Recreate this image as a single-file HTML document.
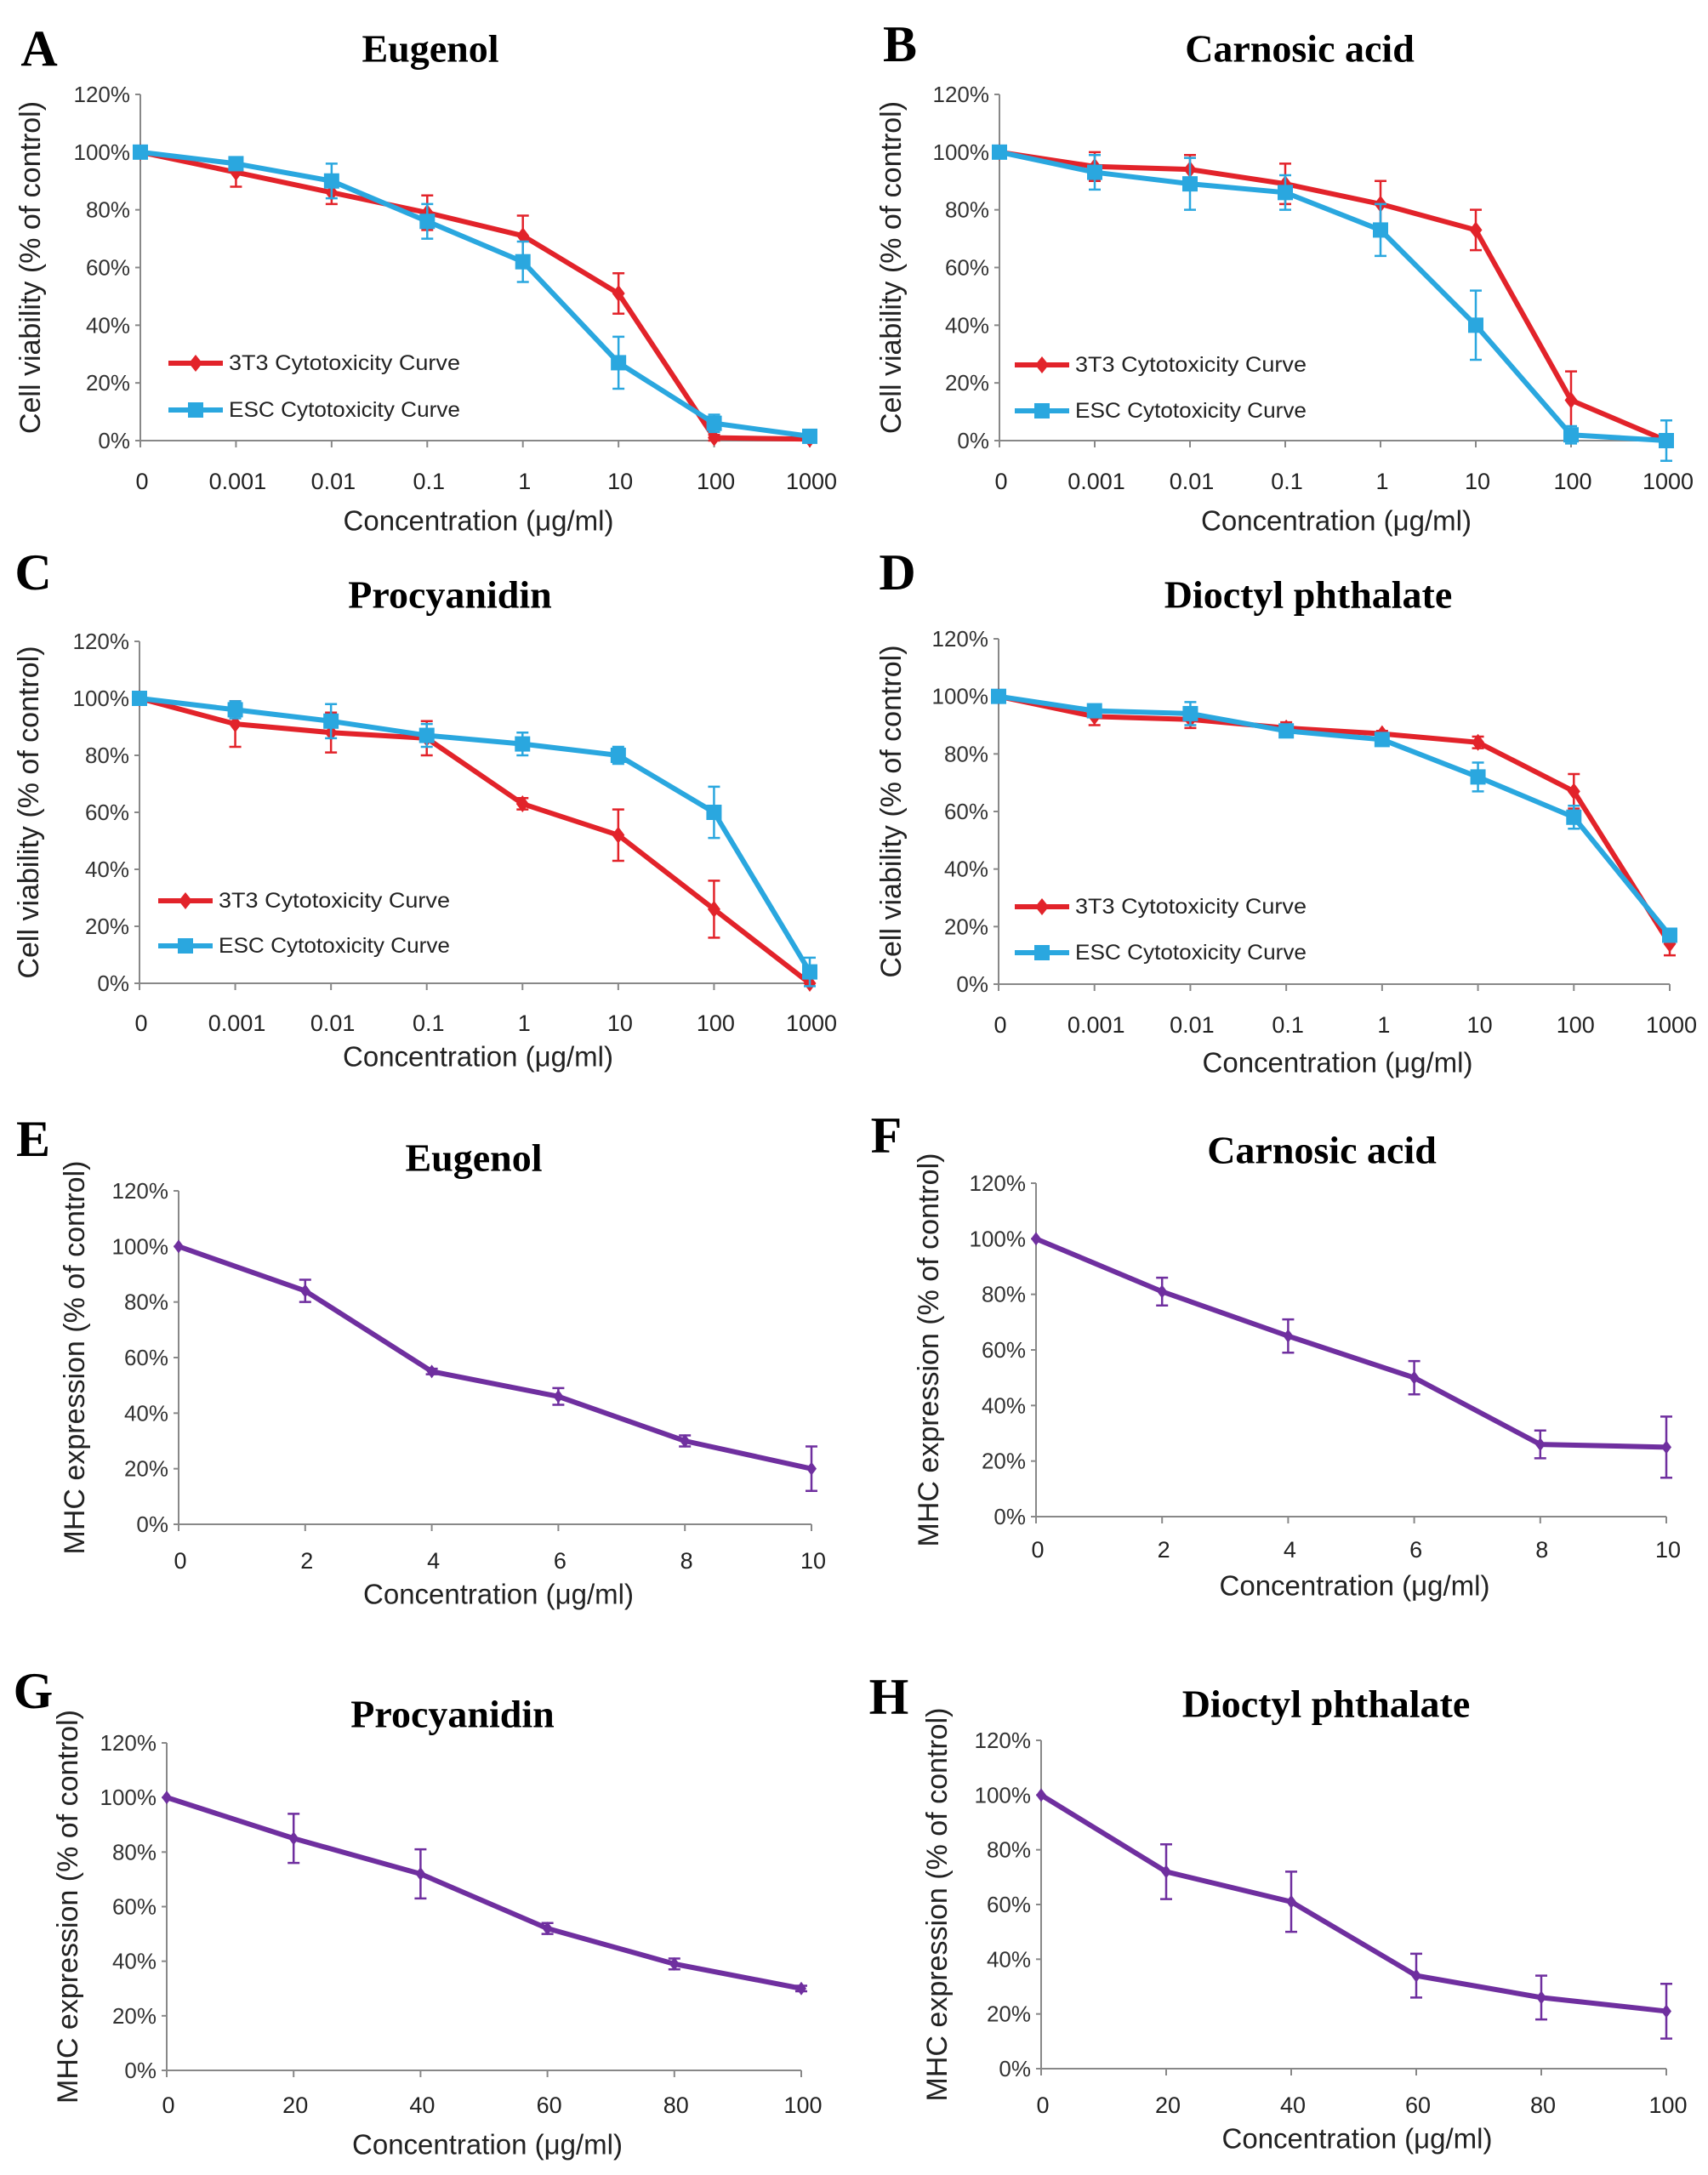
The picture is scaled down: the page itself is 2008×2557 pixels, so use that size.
<!DOCTYPE html>
<html><head><meta charset="utf-8"><style>
html,body{margin:0;padding:0;background:#fff}
svg{display:block}
text{font-family:"Liberation Sans",sans-serif}
.serif{font-family:"Liberation Serif",serif;font-weight:bold}
</style></head><body>
<svg id="fig" width="2008" height="2557" viewBox="0 0 2008 2557" xmlns="http://www.w3.org/2000/svg"></svg>
<script>
const logCats = ["0","0.001","0.01","0.1","1","10","100","1000"];
const catsE = ["0","2","4","6","8","10"];
const catsF = ["0","2","4","6","8","10"];
const catsG = ["0","20","40","60","80","100"];
const catsH = ["0","20","40","60","80","100"];
const yTicks = ["0%","20%","40%","60%","80%","100%","120%"];

const a3T3 = [100,93,86,79,71,51,1,0.5];
const a3T3Err = [0,5,4,6,7,7,1,0];
const aESC = [100,96,90,76,62,27,6,1.5];
const aESCErr = [0,2,6,6,7,9,3,1];
const b3T3 = [100,95,94,89,82,73,14,0];
const b3T3Err = [0,5,5,7,8,7,10,0];
const bESC = [100,93,89,86,73,40,2,0];
const bESCErr = [0,6,9,6,9,12,3,7];
const c3T3 = [100,91,88,86,63,52,26,0];
const c3T3Err = [0,8,7,6,2,9,10,0];
const cESC = [100,96,92,87,84,80,60,4];
const cESCErr = [0,3,6,4,4,3,9,5];
const d3T3 = [100,93,92,89,87,84,67,14];
const d3T3Err = [0,3,3,2,1,2,6,4];
const dESC = [100,95,94,88,85,72,58,17];
const dESCErr = [0,2,4,2,1,5,4,2];
const eMHC = [100,84,55,46,30,20];
const eErr = [0,4,1,3,2,8];
const fMHC = [100,81,65,50,26,25];
const fErr = [0,5,6,6,5,11];
const gMHC = [100,85,72,52,39,30];
const gErr = [0,9,9,2,2,1];
const hMHC = [100,72,61,34,26,21];
const hErr = [0,10,11,8,8,10];

const NS="http://www.w3.org/2000/svg";
const svg=document.getElementById('fig');
function mk(tag,attrs,parent,txt){const e=document.createElementNS(NS,tag);for(const k in attrs)e.setAttribute(k,attrs[k]);if(txt!==undefined)e.textContent=txt;(parent||svg).appendChild(e);return e;}

const RED="#e2232a", BLUE="#2aa7df", PURPLE="#6f2f9f";

function panel(p){
  const g=mk('g',{});
  
  
  const n=p.cats.length;
  const xs=i=>p.x0+(p.x1-p.x0)*i/(n-1);
  const ys=v=>p.y0+(p.y120-p.y0)*v/120;
  const L=mk('text',{x:p.lx,y:p.ly,'font-size':60,class:'serif','text-anchor':'middle','dominant-baseline':'central'},g,p.id);
  
  
  const T=mk('text',{x:p.tx,y:p.ty,'font-size':46,class:'serif','text-anchor':'middle','dominant-baseline':'central'},g,p.title);
  
  
  const ya=mk('line',{x1:p.x0,y1:p.y0,x2:p.x0,y2:p.y120,stroke:'#888','stroke-width':2},g);
  
  
  const xa=mk('line',{x1:p.x0,y1:p.y0,x2:p.x1,y2:p.y0,stroke:'#888','stroke-width':2},g);
  
  
  yTicks.forEach((t,i)=>{
    const y=ys(i*20);
    mk('line',{x1:p.x0-6,y1:y,x2:p.x0,y2:y,stroke:'#888','stroke-width':2},g);
    const tl=mk('text',{x:p.x0-12,y:y,'font-size':26,fill:'#333','text-anchor':'end','dominant-baseline':'central'},g,t);
    
    
  });
  p.cats.forEach((c,i)=>{
    const x=xs(i);
    mk('line',{x1:x,y1:p.y0,x2:x,y2:p.y0+8,stroke:'#888','stroke-width':2},g);
    const tl=mk('text',{x:x+2,y:p.xly,'font-size':27,fill:'#222','text-anchor':'middle','dominant-baseline':'central'},g,c);
    
    
  });
  const xt=mk('text',{x:(p.x0+p.x1)/2+4,y:p.xty,'font-size':33,fill:'#222','text-anchor':'middle','dominant-baseline':'central'},g,'Concentration (μg/ml)');
  
  
  const yc=(p.y0+p.y120)/2;
  const yt=mk('text',{x:p.ytx,y:yc,'font-size':34,fill:'#222','text-anchor':'middle','dominant-baseline':'central',transform:`rotate(-90 ${p.ytx} ${yc})`},g,p.ytitle);
  
  
  p.series.forEach(s=>{
    const sg=mk('g',{},g);
    
    
    s.vals.forEach((v,i)=>{
      const e=s.err[i]; if(!e) return;
      const x=xs(i);
      const eb=mk('path',{d:`M${x} ${ys(v-e)}V${ys(v+e)}M${x-7} ${ys(v-e)}h14M${x-7} ${ys(v+e)}h14`,stroke:s.color,'stroke-width':2.5,fill:'none'},sg);
      
      
    });
    const pts=s.vals.map((v,i)=>xs(i)+','+ys(v)).join(' ');
    const pl=mk('polyline',{points:pts,fill:'none',stroke:s.color,'stroke-width':6,'stroke-linejoin':'round'},sg);
    
    
    s.vals.forEach((v,i)=>{
      const x=xs(i),y=ys(v);let m;
      if(s.marker==='square') m=mk('rect',{x:x-9,y:y-9,width:18,height:18,fill:s.color},sg);
      else {const r=s.size||10;m=mk('path',{d:`M${x} ${y-r}L${x+r*0.75} ${y}L${x} ${y+r}L${x-r*0.75} ${y}Z`,fill:s.color},sg);}
      
      
    });
  });
  if(p.legend){
    p.series.forEach((s,k)=>{
      const y=p.legend.y[k];
      const lg=mk('g',{},g);
      
      
      mk('line',{x1:p.legend.x,y1:y,x2:p.legend.x+64,y2:y,stroke:s.color,'stroke-width':6},lg);
      const cx=p.legend.x+32;
      if(s.marker==='square') mk('rect',{x:cx-9,y:y-9,width:18,height:18,fill:s.color},lg);
      else mk('path',{d:`M${cx} ${y-10}L${cx+8} ${y}L${cx} ${y+10}L${cx-8} ${y}Z`,fill:s.color},lg);
      mk('text',{x:p.legend.x+71,y:y,'font-size':25,fill:'#222','dominant-baseline':'central',textLength:272,lengthAdjust:'spacingAndGlyphs'},lg,s.label);
    });
  }
}
const CV='Cell viability (% of control)', MHC='MHC expression (% of control)';
function two(r,rErr,b,bErr){return [
 {key:'3t3',label:'3T3 Cytotoxicity Curve',color:RED,marker:'diamond',vals:r,err:rErr},
 {key:'esc',label:'ESC Cytotoxicity Curve',color:BLUE,marker:'square',vals:b,err:bErr}];}
function one(v,e){return [{key:'mhc',color:PURPLE,marker:'diamond',size:8,vals:v,err:e}];}

panel({id:'A',title:'Eugenol',lx:46,ly:57,tx:506,ty:57,cats:logCats,x0:165,x1:952,y0:518,y120:111,xly:566,xty:612,ytx:36,ytitle:CV,series:two(a3T3,a3T3Err,aESC,aESCErr),legend:{x:198,y:[427,482]}});
panel({id:'B',title:'Carnosic acid',lx:1058,ly:52,tx:1528,ty:57,cats:logCats,x0:1175,x1:1959,y0:518,y120:111,xly:566,xty:612,ytx:1048,ytitle:CV,series:two(b3T3,b3T3Err,bESC,bESCErr),legend:{x:1193,y:[429,483]}});
panel({id:'C',title:'Procyanidin',lx:39,ly:673,tx:529,ty:699,cats:logCats,x0:164,x1:952,y0:1156,y120:754,xly:1203,xty:1242,ytx:34,ytitle:CV,series:two(c3T3,c3T3Err,cESC,cESCErr),legend:{x:186,y:[1059,1112]}});
panel({id:'D',title:'Dioctyl phthalate',lx:1055,ly:673,tx:1538,ty:699,cats:logCats,x0:1174,x1:1963,y0:1157,y120:751,xly:1205,xty:1249,ytx:1048,ytitle:CV,series:two(d3T3,d3T3Err,dESC,dESCErr),legend:{x:1193,y:[1066,1120]}});
panel({id:'E',title:'Eugenol',lx:39,ly:1339,tx:557,ty:1361,cats:catsE,x0:210,x1:954,y0:1792,y120:1400,xly:1835,xty:1874,ytx:88,ytitle:MHC,series:one(eMHC,eErr)});
panel({id:'F',title:'Carnosic acid',lx:1042,ly:1335,tx:1554,ty:1352,cats:catsF,x0:1218,x1:1959,y0:1783,y120:1391,xly:1822,xty:1864,ytx:1092,ytitle:MHC,series:one(fMHC,fErr)});
panel({id:'G',title:'Procyanidin',lx:39,ly:1988,tx:532,ty:2015,cats:catsG,x0:196,x1:942,y0:2434,y120:2049,xly:2475,xty:2521,ytx:80,ytitle:MHC,series:one(gMHC,gErr)});
panel({id:'H',title:'Dioctyl phthalate',lx:1045,ly:1995,tx:1559,ty:2003,cats:catsH,x0:1224,x1:1959,y0:2432,y120:2046,xly:2475,xty:2514,ytx:1102,ytitle:MHC,series:one(hMHC,hErr)});
</script>
</body></html>
